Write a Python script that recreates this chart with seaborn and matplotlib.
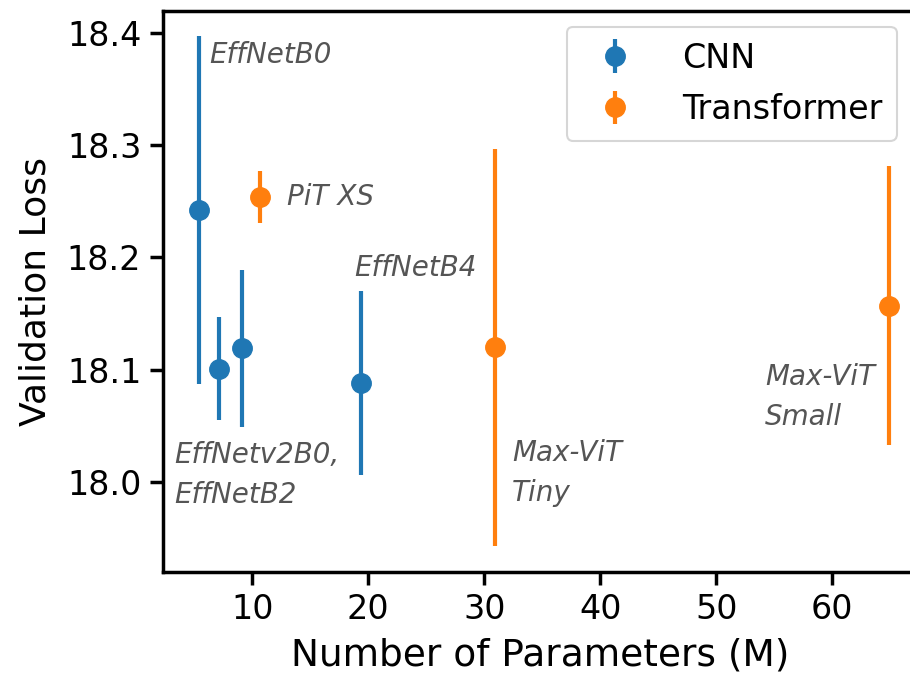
import matplotlib
matplotlib.use("Agg")
import matplotlib.pyplot as plt
import seaborn as sns
import pandas as pd

# ---- data ----
cnn_names = ["EffNetB0", "EffNetv2B0", "EffNetB2", "EffNetB4"]
cnn_params = [5.4, 7.1, 9.1, 19.35]
cnn_loss = [18.242, 18.101, 18.119, 18.088]
cnn_err = [0.155, 0.046, 0.070, 0.082]

tr_names = ["PiT XS", "Max-ViT Tiny", "Max-ViT Small"]
tr_params = [10.7, 30.9, 64.85]
tr_loss = [18.254, 18.120, 18.157]
tr_err = [0.023, 0.177, 0.124]

labels = ["EffNetB0", "PiT XS", "EffNetB4", "EffNetv2B0,\nEffNetB2", "Max-ViT\nTiny", "Max-ViT\nSmall"]
label_x = [6.3, 13.0, 18.8, 3.3, 32.4, 54.2]
label_y = [18.380, 18.254, 18.191, 18.006, 18.008, 18.076]

sns.set_theme(style="ticks", context="talk")
plt.rcParams['font.family'] = ['DejaVu Sans']

df = pd.DataFrame({
    "params": cnn_params + tr_params,
    "loss": cnn_loss + tr_loss,
    "err": cnn_err + tr_err,
    "family": ["CNN"] * len(cnn_params) + ["Transformer"] * len(tr_params),
})

pal = sns.color_palette("tab10")
fig = plt.figure(figsize=(9.1, 6.76), dpi=100)
ax = fig.add_axes([0.179, 0.154, 0.83, 0.829])

for i, fam in enumerate(["CNN", "Transformer"]):
    sub = df[df.family == fam]
    ax.errorbar(sub["params"], sub["loss"], yerr=sub["err"], fmt="o",
                color=pal[i], markersize=14, elinewidth=3.0, capsize=0,
                label=fam)

for t, x, y in zip(labels, label_x, label_y):
    ax.text(x, y, t, fontsize=20, style="italic", color="#555555",
            family="DejaVu Sans", va="center", ha="left", linespacing=1.55)

ax.set_xlim(2.3, 67.4)
ax.set_ylim(17.920, 18.419)
ax.set_xticks([10, 20, 30, 40, 50, 60])
ax.set_yticks([18.0, 18.1, 18.2, 18.3, 18.4])
ax.set_xlabel("Number of Parameters (M)", fontsize=27, labelpad=8, color="black")
ax.set_ylabel("Validation Loss", fontsize=26, labelpad=10, color="black")
ax.tick_params(labelsize=24, length=9.5, width=2.5, pad=6, colors="black")
for s in ax.spines.values():
    s.set_linewidth(2.5)
    s.set_color("black")
ax.spines["right"].set_visible(False)

leg = ax.legend(loc="upper right", fontsize=24, handletextpad=1.0,
                borderpad=0.45, labelspacing=0.55, borderaxespad=0,
                bbox_to_anchor=(0.972, 0.973))
for txt in leg.get_texts():
    txt.set_color("black")

fig.savefig("out.png", dpi=100)
